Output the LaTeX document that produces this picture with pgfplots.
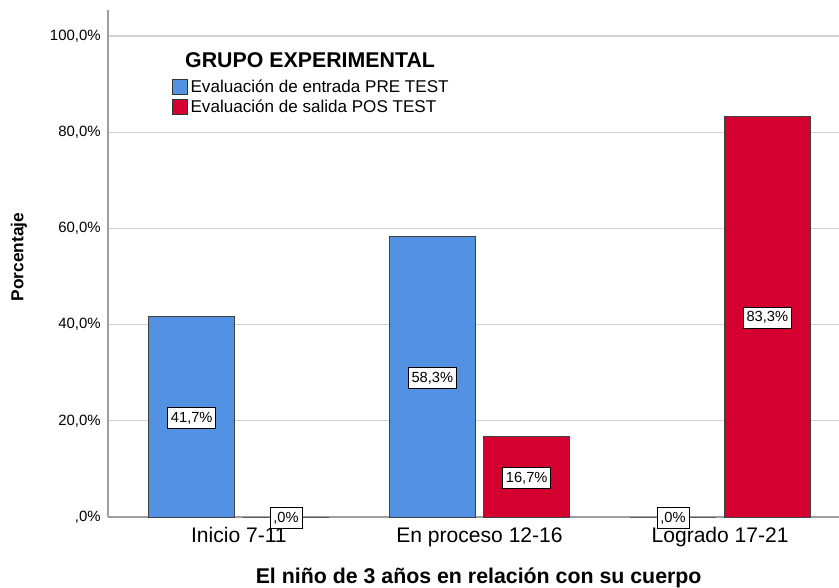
\documentclass[border=0pt]{standalone}
\usepackage{pgfplots}
\pgfplotsset{compat=1.18}
\usepackage{fontspec}
\setmainfont{Liberation Sans}
\definecolor{preblue}{RGB}{83,146,227}
\definecolor{posred}{RGB}{212,0,48}
\begin{document}
\begin{tikzpicture}
\useasboundingbox (-81pt,-52.5pt) rectangle (548.25pt,387.75pt);
\begin{axis}[
  at={(0pt,0pt)}, anchor=south west,
  scale only axis, width=548.25pt, height=380.25pt,
  xmin=-0.544, xmax=2.494, ymin=0, ymax=105.4,
  enlargelimits=false, clip=false,
  axis lines=left, axis line style={-, draw=gray!75, line width=1pt},
  ymajorgrids, grid style={draw=gray!35, line width=1pt},
  major tick length=0pt,
  xtick={0,1,2}, xticklabels={Inicio 7-11, En proceso 12-16, Logrado 17-21},
  xticklabel style={font=\fontsize{15.8}{18}\selectfont, yshift=-4.5pt},
  ytick={0,20,40,60,80,100},
  yticklabels={{,0\%},{20,0\%},{40,0\%},{60,0\%},{80,0\%},{100,0\%}},
  yticklabel style={font=\fontsize{11.2}{13}\selectfont, xshift=-2pt},
  /pgf/number format/assume math mode=true,
  xlabel={El niño de 3 años en relación con su cuerpo},
  xlabel style={font=\bfseries\fontsize{16}{18}\selectfont, at={(axis description cs:0.507,0)}, anchor=center, yshift=-45.5pt},
  ylabel={Porcentaje},
  ylabel style={font=\bfseries\fontsize{13}{15}\selectfont, at={(axis description cs:-0.1218,0.513)}, anchor=center},
  ybar, bar width=0.357,
  legend style={at={(axis description cs:0.0871,0.868)}, anchor=north west, draw=none, fill=none,
    font=\fontsize{12.8}{14}\selectfont, inner sep=0pt, row sep=0pt,
    /tikz/every even column/.append style={column sep=3pt}},
  legend cell align=left,
  legend image code/.code={\draw[#1, draw=black!80, line width=0.75pt] (0pt,-5.6pt) rectangle (11.25pt,5.6pt);},
]
\addplot[fill=preblue, draw=black!75, line width=0.75pt, bar shift=-0.196,
  point meta=explicit symbolic, nodes near coords,
  visualization depends on=rawy \as \rawyval,
  every node near coord/.append style={anchor=center, shift={(axis direction cs:0,-\rawyval/2)}, yshift=-1pt,
    fill=white, draw=black, line width=0.6pt, font=\fontsize{11}{12}\selectfont,
    text=black, inner xsep=2.5pt, inner ysep=2.9pt, text height=8pt, text depth=2pt}]
  coordinates {(0,41.7) [41,7\%] (1,58.3) [58,3\%] (2,0) [,0\%]};
\addlegendentry{Evaluación de entrada PRE TEST}
\addplot[fill=posred, draw=black!75, line width=0.75pt, bar shift=0.196,
  point meta=explicit symbolic, nodes near coords,
  visualization depends on=rawy \as \rawyval,
  every node near coord/.append style={anchor=center, shift={(axis direction cs:0,-\rawyval/2)}, yshift=-1pt,
    fill=white, draw=black, line width=0.6pt, font=\fontsize{11}{12}\selectfont,
    text=black, inner xsep=2.5pt, inner ysep=2.9pt, text height=8pt, text depth=2pt}]
  coordinates {(0,0) [,0\%] (1,16.7) [16,7\%] (2,83.3) [83,3\%]};
\addlegendentry{Evaluación de salida POS TEST}
\node[anchor=west, inner sep=0pt, font=\bfseries\fontsize{16}{18}\selectfont] at (rel axis cs:0.1053,0.901) {GRUPO EXPERIMENTAL};
\end{axis}
\end{tikzpicture}
\end{document}
